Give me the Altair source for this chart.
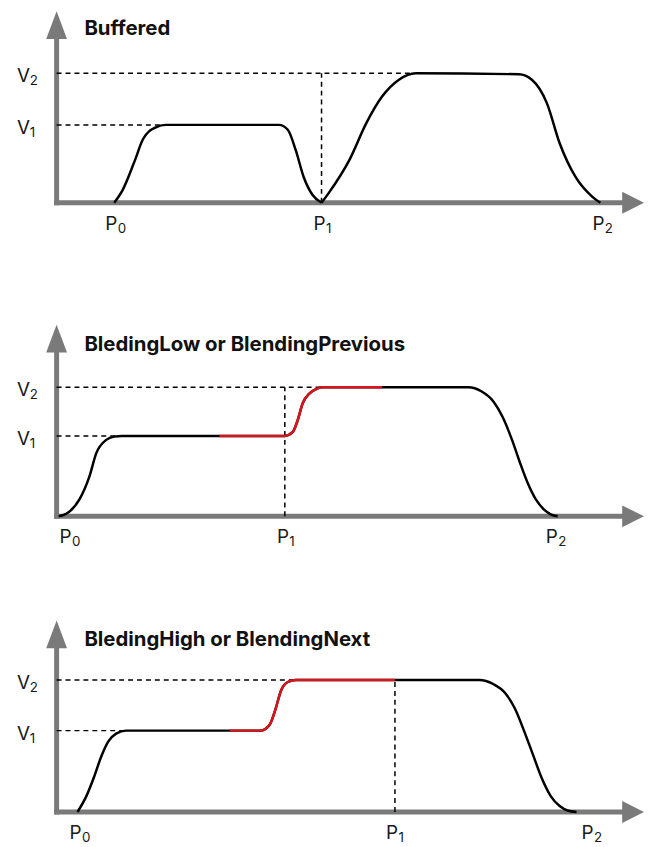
import altair as alt
import pandas as pd

# ---------------- data ----------------
TITLES = ["Buffered", "BledingLow or BlendingPrevious", "BledingHigh or BlendingNext"]
TITLE_Y = [169, 167, 167]
V_LETTER = ["V", "V"]
V_SUB = ["1", "2"]
P_LETTER = ["P", "P", "P"]
P_SUB = ["0", "1", "2"]

V_LEVELS = [[78.5, 130.5], [81, 130], [82, 133]]          # V1, V2 per panel
P1_POS = [267, 230, 341]                                   # P1 position per panel
P_LABEL_LEFT = [[49, 259, 540], [3, 222, 493], [13, 332, 529]]
V_DASH_END = [[110, 360], [66, 268], [70, 241]]
RED_RANGE = [None, [164, 328], [174.5, 341]]

# curves: (x, y, segment)
C1_X = [58, 66.5, 79, 87, 100, 110, 224, 233, 241, 249, 258, 267,
        267, 274, 295, 312, 328, 345, 362, 466, 479, 494, 507, 523, 540, 548]
C1_Y = [0, 12.8, 43, 64, 76, 78.5, 78.5, 73.6, 53, 26, 7.8, 0,
        0, 9.5, 43, 80, 107, 124, 130.5, 129.5, 124, 100.7, 60, 26, 6, 0]
C1_S = [0] * 12 + [1] * 14

C2_X = [2, 12, 23, 33, 40, 50, 58, 66, 164, 230, 238, 243, 248, 255, 262, 268,
        328, 415, 428, 440, 450, 459, 467, 475, 483, 491, 498, 505]
C2_Y = [0, 4, 17, 40, 63.7, 77, 80.3, 81, 81, 81, 85, 97, 114, 124, 128.5, 130,
        130, 130, 126, 116, 99, 77, 54, 33, 17, 7, 2, 0]
C2_S = [0] * len(C2_X)

C3_X = [21, 30, 38, 45, 52, 60, 70, 174.5, 205.6, 214.7, 221, 226, 233, 241,
        341, 426, 440, 452, 462, 471, 480, 489, 498, 507, 515, 524]
C3_Y = [0, 16, 36, 56, 71, 79, 82, 82, 82, 88, 105, 122, 131, 133,
        133, 133, 129, 120, 104, 82, 58, 34, 16, 6, 1.5, 0]
C3_S = [0] * len(C3_X)

CURVES = [(C1_X, C1_Y, C1_S), (C2_X, C2_Y, C2_S), (C3_X, C3_Y, C3_S)]

Y_DOMAINS = [[-99, 193], [-83, 217], [-24, 215]]
X_DOMAIN = [-49, 587]
AXIS_TOP = 193
AXIS_RIGHT = 592

FONT = "Inter"
GRAY = "#7a7a7a"
RED = "#d8141c"
TXT = "#1a1a1a"

xs = alt.Scale(domain=X_DOMAIN, nice=False, zero=False)

UP = "M0,-1.333L1,1.333L-1,1.333Z"
RIGHT = "M1,0L-1,-1L-1,1Z"


def panel(i):
    ys = alt.Scale(domain=Y_DOMAINS[i], nice=False, zero=False)
    h = Y_DOMAINS[i][1] - Y_DOMAINS[i][0]
    X = lambda f: alt.X(f, type="quantitative", scale=xs, axis=None)
    Y = lambda f: alt.Y(f, type="quantitative", scale=ys, axis=None)

    v1, v2 = V_LEVELS[i]
    cx, cy, cs = CURVES[i]
    curve = pd.DataFrame({"x": cx, "y": cy, "s": cs})

    # axis lines
    axes_df = pd.DataFrame({
        "x": [0, 0], "x2": [AXIS_RIGHT - 22, 0],
        "y": [0, 0], "y2": [0, AXIS_TOP - 28],
    })
    axes = alt.Chart(axes_df).mark_rule(color=GRAY, strokeWidth=5, strokeCap="square").encode(
        x=X("x"), x2="x2", y=Y("y"), y2="y2")

    up = alt.Chart(pd.DataFrame({"x": [0], "y": [AXIS_TOP - 14]})).mark_point(
        shape=UP, filled=True, color=GRAY, opacity=1, size=441, strokeWidth=0).encode(
        x=X("x"), y=Y("y"))
    right = alt.Chart(pd.DataFrame({"x": [AXIS_RIGHT - 11], "y": [0]})).mark_point(
        shape=RIGHT, filled=True, color=GRAY, opacity=1, size=484, strokeWidth=0).encode(
        x=X("x"), y=Y("y"))

    # dashed guides
    dash_df = pd.DataFrame({
        "x": [0, 0, P1_POS[i]],
        "x2": [V_DASH_END[i][0], V_DASH_END[i][1], P1_POS[i]],
        "y": [v1, v2, 0],
        "y2": [v1, v2, v2],
    })
    dashes = alt.Chart(dash_df).mark_rule(color="black", strokeWidth=1.5, strokeDash=[5, 4]).encode(
        x=X("x"), x2="x2", y=Y("y"), y2="y2")

    black = alt.Chart(curve).mark_line(color="black", strokeWidth=2.5, interpolate="monotone").encode(
        x=X("x"), y=Y("y"), detail="s:N", order="x:Q")
    layers = [axes, up, right, dashes, black]

    if RED_RANGE[i] is not None:
        a, b = RED_RANGE[i]
        red_df = curve[(curve.x >= a) & (curve.x <= b)]
        red = alt.Chart(red_df).mark_line(color=RED, strokeWidth=2.5, interpolate="monotone").encode(
            x=X("x"), y=Y("y"), order="x:Q")
        layers.append(red)

    vlab = pd.DataFrame({"x": [-40, -40], "y": [v1 - 9, v2 - 9], "t": V_LETTER, "s": V_SUB})
    vtext = alt.Chart(vlab).mark_text(align="left", baseline="alphabetic", font=FONT, fontSize=19,
                                      color=TXT).encode(x=X("x"), y=Y("y"), text="t:N")
    vsub = alt.Chart(vlab).mark_text(align="left", baseline="alphabetic", font=FONT, fontSize=13.5,
                                     color=TXT, dx=13, dy=3).encode(x=X("x"), y=Y("y"), text="s:N")
    plab = pd.DataFrame({"x": P_LABEL_LEFT[i], "y": [-27, -27, -27], "t": P_LETTER, "s": P_SUB})
    ptext = alt.Chart(plab).mark_text(align="left", baseline="alphabetic", font=FONT, fontSize=19,
                                      color=TXT).encode(x=X("x"), y=Y("y"), text="t:N")
    psub = alt.Chart(plab).mark_text(align="left", baseline="alphabetic", font=FONT, fontSize=13.5,
                                     color=TXT, dx=12.5, dy=3).encode(x=X("x"), y=Y("y"), text="s:N")
    ttl = alt.Chart(pd.DataFrame({"x": [28], "y": [TITLE_Y[i]], "t": [TITLES[i]]})).mark_text(
        align="left", baseline="alphabetic", font=FONT, fontSize=20.5, fontWeight="bold",
        color="#111111").encode(x=X("x"), y=Y("y"), text="t:N")
    layers += [vtext, vsub, ptext, psub, ttl]

    return alt.layer(*layers).properties(width=636, height=h)


chart = alt.vconcat(panel(0), panel(1), panel(2), spacing=0).properties(
    padding=0
).configure_view(stroke=None).configure_concat(spacing=0)

chart.save("out.html", embed_options={"renderer": "svg", "actions": False})
